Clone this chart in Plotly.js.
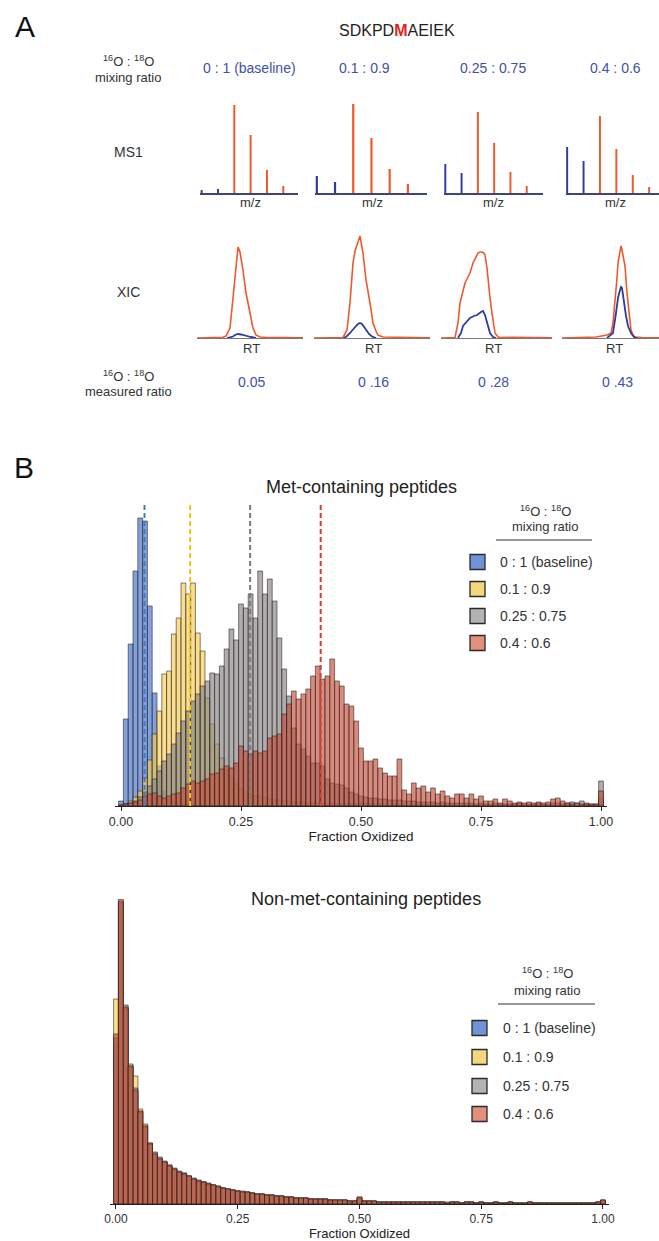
<!DOCTYPE html>
<html><head><meta charset="utf-8">
<script src="https://cdn.plot.ly/plotly-3.0.1.min.js"></script>
<style>html,body{margin:0;padding:0;background:#fff}#chart{width:659px;height:1241px}</style>
</head><body><div id="chart"></div>
<script>
// ================= DATA =================
const peptide = 'SDKPD<span style="color:#e3241b"><b>M</b></span>AEIEK';
const mixingRatios = ['0 : 1 (baseline)', '0.1 : 0.9', '0.25 : 0.75', '0.4 : 0.6'];
const measuredRatios = ['0.05', '0 .16', '0 .28', '0 .43'];

// MS1 isotope envelopes (relative intensity), index = isotope peak position
const mzLight = [0, 1];
const mzHeavy = [2, 3, 4, 5];
const ms1Light = [[3, 4], [17, 11], [29, 20], [46, 32]];
const ms1Heavy = [[88, 58, 23, 7], [89, 55, 24, 9], [81, 50, 21, 7], [77, 44, 18, 6]];

// XIC traces (RT in arbitrary units, intensity)
const xicHeavyRT = [
  [0,10,20,26,29,33,36,39,41,43,46,49,53,56,59,63,70,76,83,90,100,106],
  [0,20,29,33,36,39,41,43,46,49,52,56,59,62,64,69,80,95,116],
  [0,10,14,17,19,22,24,27,29,32,35,37,39,41,43,44,46,47,49,51,54,57,60,70,90,111],
  [0,20,34,45,49,51,53,55,56,58,59,60,62,63,65,66,68,69,71,73,80,97]
];
const xicHeavy = [
  [0,0.3,0.3,0.8,2,10,40,75,91,86,68,45,25,10,3,1,0.5,0.7,1,0.5,0.3,0.2],
  [0,0.3,0.5,8,35,75,87,93,102,85,58,35,15,7,3,1,0.7,0.5,0.2],
  [0,0.3,0.5,15,35,47,55,61,65,75,82,85,86,86,85,83,70,58,40,25,5,1,0.5,0.6,0.3,0.2],
  [0,0.5,1,3,5,15,35,60,75,85,92,88,75,72,45,35,15,8,3,1,0.5,0.3]
];
const xicLightRT = [
  [30,33,36,38,41,44,47,50,54,57,59],
  [30,33,36,39,42,44,46,48,52,55,58,62],
  [17,20,22,26,29,33,36,40,42,44,47,49,52,55],
  [45,49,51,54,56,58,59,60,61,63,64,66,69,72,75]
];
const xicLight = [
  [0,0.5,1.5,3,4,3.5,2.5,2,1,0.5,0],
  [0,2,5,9,12,14,15,14,8,4,1.5,0],
  [0,5,12,17,20,22,23,26,27,23,12,5,1,0],
  [0,3,5,25,40,48,51,50,42,30,22,12,5,1,0]
];

// Histograms: bin width 0.01, first bin centred at 0.00 (101 bins)
const binWidth = 0.01;
const fractionTicks = [0, 0.25, 0.5, 0.75, 1];
const fractionTickLabels = ['0.00', '0.25', '0.50', '0.75', '1.00'];
const seriesNames = ['0 : 1 (baseline)', '0.1 : 0.9', '0.25 : 0.75', '0.4 : 0.6'];

const metBaseline = [5,87,162,235,288,285,200,113,40,15, 7,4,3,2,2,2,1,1,1,1, 1,1,1,1,0,1,0,1,0,0,
  1,0,0,1,0,0,0,1,0,0, 0,0,1,0,0,0,0,0,1,0, 1,0,0,0,0,0,0,0,0,0, 0,0,0,0,0,0,0,0,0,0,
  0,0,0,0,0,0,0,0,0,0, 0,0,0,0,0,0,0,0,0,0, 0,0,0,0,0,0,0,0,0,1, 4];
const metR01 = [0,2,5,9,15,28,46,72,95,132, 135,172,188,223,212,223,173,155,108,82, 62,48,36,28,22,17,14,12,10,9,
  8,7,6,6,5,5,4,4,4,3, 3,3,3,2,3,2,2,2,2,2, 3,2,2,1,2,1,1,2,1,1, 1,1,1,1,1,1,1,1,1,1,
  1,1,1,1,1,1,1,0,1,1, 1,0,1,1,0,1,0,1,1,0, 1,1,0,1,1,0,1,1,1,1, 8];
const metR025 = [1,2,3,5,9,14,20,27,35,45, 52,62,73,85,95,105,112,120,125,133, 132,140,157,177,166,202,198,212,188,235,
  212,227,205,168,137,110,78,62,57,50, 43,43,40,27,23,22,21,18,14,12, 10,9,8,8,7,7,6,6,6,5, 5,5,4,4,4,4,3,4,3,3,
  3,3,3,3,2,3,2,2,3,2, 2,2,2,3,2,2,2,3,2,2, 3,3,2,3,4,3,5,3,2,2, 25];
const metR04 = [1,2,3,4,6,10,12,13,10,8, 10,12,13,18,22,25,23,25,27,32, 33,37,40,38,43,60,55,52,55,53,
  55,68,70,72,92,102,115,107,112,117, 130,140,127,130,147,125,120,102,100,85, 58,45,45,47,38,33,30,30,47,16,
  12,23,18,20,14,18,12,15,10,8, 12,12,8,12,7,10,5,5,7,3, 7,5,3,4,3,4,3,4,3,4, 7,8,5,3,2,3,2,2,2,2, 15];
const metMedians = [0.049, 0.144, 0.269, 0.416];

const nonMetBaseline = [162,302,196,139,113,93,79,60,50,45, 42,38,35,32,30,28,25,23,22,20, 19,17,16,15,14,13,12,12,11,10,
  10,9,9,8,8,7,7,6,6,6, 5,5,5,5,4,4,4,4,3,3, 6,3,3,3,2,2,2,2,2,2, 2,2,2,2,2,2,2,2,1,2,
  2,1,2,2,1,2,1,1,2,1, 1,2,1,1,1,2,1,1,1,1, 1,1,1,1,1,1,1,1,1,2, 3];
const nonMetR01 = [205,300,195,140,128,95,80,61,51,46, 42,39,36,32,31,28,25,23,22,20, 19,18,16,15,14,13,12,12,11,10,
  10,9,9,8,8,7,7,6,6,6, 5,5,5,5,4,4,4,4,3,3, 7,3,3,3,2,2,2,2,2,2, 2,2,2,2,2,2,2,2,2,2,
  2,1,2,2,1,2,1,1,2,1, 1,2,1,1,1,2,1,1,1,1, 1,1,1,1,1,1,1,1,1,2, 4];
const nonMetR025 = [166,303,199,137,116,92,77,61,52,47, 43,39,35,33,31,28,26,24,22,21, 19,18,16,15,14,13,13,12,11,10,
  10,9,9,8,8,7,7,6,6,6, 5,5,5,5,4,4,4,4,3,3, 6,3,3,3,2,2,2,2,2,2, 2,2,2,2,2,2,2,2,1,2,
  2,1,2,2,1,2,1,1,2,1, 1,2,1,1,1,2,1,1,1,1, 1,1,1,1,1,1,1,1,1,2, 4];
const nonMetR04 = [170,305,197,138,114,93,78,60,50,45, 42,38,35,32,30,28,25,23,22,20, 19,17,16,15,14,13,12,12,11,10,
  10,9,9,8,8,7,7,6,6,6, 5,5,5,5,4,4,4,4,3,3, 7,3,3,3,2,2,2,2,2,2, 2,2,2,2,2,2,2,2,1,2,
  2,1,2,2,1,2,1,1,2,1, 1,2,1,1,1,2,1,1,1,1, 1,1,1,1,1,1,1,1,1,2, 4];

// ================= STYLE / LAYOUT =================
const W = 659, H = 1241;
const fx = p => p / W;
const fy = p => 1 - p / H;
const FONT = 'Liberation Sans, Arial, Helvetica, sans-serif';
const BLUE_TXT = '#4150a8';
const ORANGE = '#f0582c';
const DBLUE = '#2f3d9a';
const histFill = ['rgba(62,110,200,0.65)', 'rgba(245,205,80,0.65)', 'rgba(130,130,130,0.65)', 'rgba(195,75,55,0.65)'];
const swatch = ['#6f93d6', '#f4d67c', '#b3b3b3', '#e28f7b'];
const medianColor = ['#3f78cc', '#f0c419', '#7a7a7a', '#d8402f'];

const ms1Dom = [[200, 298], [315, 427], [444, 543], [566, 659]];
const ms1Rng = [[-0.1, 5.9], [-0.1, 6.05], [-0.08, 6.0], [-0.07, 5.6]];
const xicDom = [[197, 303], [314, 430], [441, 552], [562, 659]];
const xicRng = [[0, 106], [0, 116], [0, 111], [0, 97]];
const colCenters = [250, 372, 494, 615];

const traces = [];
const layout = {
  width: W, height: H, margin: {l: 0, r: 0, t: 0, b: 0},
  paper_bgcolor: '#fff', plot_bgcolor: 'rgba(0,0,0,0)',
  showlegend: false, barmode: 'overlay',
  font: {family: FONT, color: '#222'},
  annotations: [], shapes: []
};
function hiddenY(dom, rng) {
  return {domain: [fy(dom[1]), fy(dom[0])], range: rng, visible: false, fixedrange: true};
}
function lineX(dom, rng, anchor, color, width) {
  return {domain: [fx(dom[0]), fx(dom[1])], range: rng, anchor: anchor, showline: true,
    linecolor: color, linewidth: width, showgrid: false, zeroline: false, showticklabels: false,
    ticks: '', fixedrange: true};
}

// MS1 panels (axes 1-4)
for (let i = 0; i < 4; i++) {
  const n = i + 1, xs = n === 1 ? 'x' : 'x' + n, ys = n === 1 ? 'y' : 'y' + n;
  layout[n === 1 ? 'xaxis' : 'xaxis' + n] = lineX(ms1Dom[i], ms1Rng[i], ys, '#3c4578', 1.5);
  layout[n === 1 ? 'yaxis' : 'yaxis' + n] = hiddenY([103, 193], [0, 90]);
  traces.push({type: 'bar', x: mzLight, y: ms1Light[i], width: 0.12, xaxis: xs, yaxis: ys,
    marker: {color: DBLUE, line: {width: 0}}, hoverinfo: 'skip'});
  traces.push({type: 'bar', x: mzHeavy, y: ms1Heavy[i], width: 0.12, xaxis: xs, yaxis: ys,
    marker: {color: ORANGE, line: {width: 0}}, hoverinfo: 'skip'});
}
// XIC panels (axes 5-8)
for (let i = 0; i < 4; i++) {
  const n = i + 5, xs = 'x' + n, ys = 'y' + n;
  layout['xaxis' + n] = lineX(xicDom[i], xicRng[i], ys, '#777', 1.2);
  layout['yaxis' + n] = hiddenY([233, 338], [0, 105]);
  traces.push({type: 'scatter', mode: 'lines', x: xicHeavyRT[i], y: xicHeavy[i], xaxis: xs, yaxis: ys,
    line: {color: ORANGE, width: 1.6}, hoverinfo: 'skip'});
  traces.push({type: 'scatter', mode: 'lines', x: xicLightRT[i], y: xicLight[i], xaxis: xs, yaxis: ys,
    line: {color: DBLUE, width: 1.8}, hoverinfo: 'skip'});
}

// Histograms (axes 9, 10)
function histAxis(px0, px1, anchor, tickSize, titleSize, standoff) {
  const rng = [-0.012, 1.012];
  const per = px1 - px0; // px per unit
  return {domain: [fx(px0 + rng[0] * per), fx(px0 + rng[1] * per)], range: rng, anchor: anchor,
    showline: true, linecolor: '#222', linewidth: 1, ticks: 'outside', ticklen: 4, tickwidth: 1,
    tickcolor: '#222', tickvals: fractionTicks, ticktext: fractionTickLabels,
    tickfont: {size: tickSize, color: '#333', family: FONT}, showgrid: false, zeroline: false,
    title: {text: 'Fraction Oxidized', font: {size: titleSize, color: '#222', family: FONT}, standoff: standoff},
    fixedrange: true};
}
layout.xaxis9 = histAxis(121, 601, 'y9', 12.5, 13.5, 1);
layout.yaxis9 = hiddenY([503, 806], [0, 303]);
layout.xaxis10 = histAxis(116, 603, 'y10', 12, 13, 3);
layout.yaxis10 = hiddenY([899, 1204], [0, 305]);

const metSeries = [metBaseline, metR01, metR025, metR04];
const nonMetSeries = [nonMetBaseline, nonMetR01, nonMetR025, nonMetR04];
function addHist(series, xs, ys) {
  series.forEach((arr, i) => traces.push({type: 'bar', name: seriesNames[i], y: arr, x0: 0, dx: binWidth,
    width: binWidth, xaxis: xs, yaxis: ys,
    marker: {color: histFill[i], line: {color: 'rgba(45,30,30,0.8)', width: 0.7}}, hoverinfo: 'skip'}));
}
addHist(metSeries, 'x9', 'y9');
metMedians.forEach((m, i) => traces.push({type: 'scatter', mode: 'lines', x: [m, m], y: [0, 303],
  xaxis: 'x9', yaxis: 'y9', line: {color: medianColor[i], width: 2, dash: '5px,3px'}, hoverinfo: 'skip'}));
addHist(nonMetSeries, 'x10', 'y10');

// ---------- text ----------
function txt(text, x, y, size, color, anchor, extra) {
  layout.annotations.push(Object.assign({text: text, x: fx(x), y: fy(y), xref: 'paper', yref: 'paper',
    xanchor: anchor || 'center', yanchor: 'middle', showarrow: false,
    font: {size: size, color: color || '#222', family: FONT}}, extra || {}));
}
txt('A', 25, 27, 30, '#111');
txt(peptide, 397, 31, 16, '#222');
txt('<sup>16</sup>O : <sup>18</sup>O', 128, 61, 13, '#333');
txt('mixing ratio', 128, 77, 13, '#333');
const headerX = [249, 364, 493, 615];
mixingRatios.forEach((t, i) => txt(t, headerX[i], 68, 14, BLUE_TXT));
txt('MS1', 128, 152, 14, '#333');
colCenters.forEach(c => txt('m/z', c, 203, 13, '#333'));
txt('XIC', 128, 292, 14, '#333');
const rtX = [251, 373, 494, 614];
rtX.forEach(c => txt('RT', c, 348, 13, '#333'));
txt('<sup>16</sup>O : <sup>18</sup>O', 128, 376, 13, '#333');
txt('measured ratio', 128, 392, 13, '#333');
const measX = [251, 373, 494, 617];
measuredRatios.forEach((t, i) => txt(t, measX[i], 382, 14, BLUE_TXT));

txt('B', 24, 468, 30, '#111');
txt('Met-containing peptides', 362, 487, 18, '#222');
txt('Non-met-containing peptides', 366, 899, 18, '#222');

function legend(cx, hy1, hy2, uy, ux0, ux1, sx0, itemY, lx) {
  txt('<sup>16</sup>O : <sup>18</sup>O', cx, hy1, 13, '#333');
  txt('mixing ratio', cx, hy2, 13, '#333');
  layout.shapes.push({type: 'line', xref: 'paper', yref: 'paper', x0: fx(ux0), x1: fx(ux1), y0: fy(uy), y1: fy(uy),
    line: {color: '#333', width: 1.2}});
  seriesNames.forEach((name, i) => {
    layout.shapes.push({type: 'rect', xref: 'paper', yref: 'paper', x0: fx(sx0), x1: fx(sx0 + 15),
      y0: fy(itemY[i] + 7.5), y1: fy(itemY[i] - 7.5), fillcolor: swatch[i], line: {color: '#2a2a2a', width: 1.3}});
    txt(name, lx, itemY[i], 14, '#333', 'left');
  });
}
legend(545, 511, 527, 540, 496, 592, 470, [562, 589, 616, 643], 498);
legend(547, 973, 990, 1004, 498, 595, 472, [1028, 1057, 1086, 1114], 501);

Plotly.newPlot('chart', traces, layout, {staticPlot: true, displayModeBar: false});
</script></body></html>
